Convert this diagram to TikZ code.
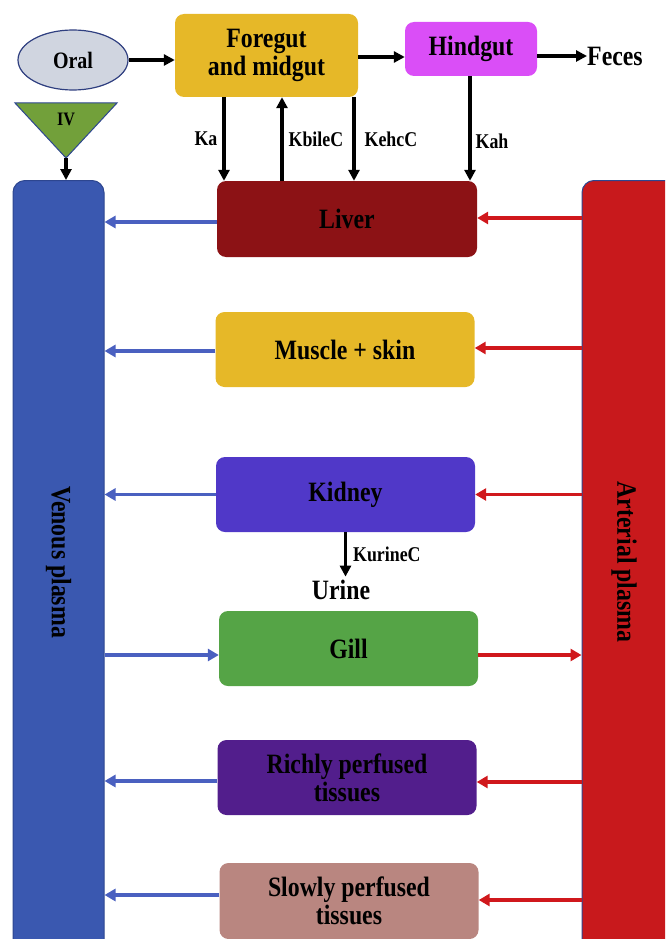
\documentclass[tikz,border=0pt]{standalone}
\usepackage{fontspec}
\setmainfont{Liberation Serif}[FakeStretch=0.85]
\usepackage{tikz}
\usetikzlibrary{positioning,arrows.meta,shapes.geometric}
\definecolor{venBlue}   {HTML}{3A58B0}
\definecolor{venEdge}   {HTML}{2D4690}
\definecolor{venArrow}  {HTML}{4A60C0}
\definecolor{artRed}    {HTML}{C8191C}
\definecolor{artArrow}  {HTML}{D0181C}
\definecolor{liverRed}  {HTML}{8C1215}
\definecolor{gutYellow} {HTML}{E6B828}
\definecolor{hindPink}  {HTML}{DA4EF7}
\definecolor{kidBlue}   {HTML}{5038C8}
\definecolor{gillGreen} {HTML}{55A446}
\definecolor{richPurple}{HTML}{521E8C}
\definecolor{slowRose}  {HTML}{B98680}
\definecolor{oralGrey}  {HTML}{D0D5E0}
\definecolor{oralEdge}  {HTML}{2F3F80}
\definecolor{ivGreen}   {HTML}{72A03A}

\begin{document}
\begin{tikzpicture}[x=1pt, y=-1pt,
  font=\bfseries\fontsize{28}{28}\selectfont,
  organ/.style ={rounded corners=9pt, minimum width=259pt, minimum height=75pt,
                 align=center, inner sep=2pt},
  plasma/.style={rounded corners=12pt, minimum height=800pt, anchor=north,
                 line width=1pt},
  ar/.style    ={-{Triangle[length=11pt,width=11pt]}, line width=3.3pt},
  vein/.style  ={-{Triangle[length=11pt,width=12pt]}, line width=3.2pt, draw=venArrow},
  artery/.style={-{Triangle[length=11pt,width=12pt]}, line width=3.2pt, draw=artArrow},
  rate/.style  ={font=\bfseries\fontsize{21}{22}\selectfont, inner sep=3pt},
]
\useasboundingbox (0,0) rectangle (665,939);
\clip (0,0) rectangle (665,939);

% gut
\node[ellipse, draw=oralEdge, fill=oralGrey, line width=1.2pt,
      minimum width=110pt, minimum height=60pt, inner sep=0pt,
      font=\bfseries\fontsize{23.5}{24}\selectfont] (oral) at (73,60) {Oral};
\node[organ, fill=gutYellow, minimum width=183pt, minimum height=83pt] (fg) at (266.5,55.5)
  {Foregut\\and midgut};
\node[organ, fill=hindPink, minimum width=132pt, minimum height=54pt] (hg) at (471,49) {Hindgut};
\node[anchor=west, inner sep=0pt] (feces) at (587,56) {Feces};

% IV dose
\fill[ivGreen, draw=venEdge, line width=1pt] (15,103) -- (117,103) -- (66,158) -- cycle;
\coordinate (ivtip) at (66,158);
\node[font=\bfseries\fontsize{19}{20}\selectfont] (iv) at (66,119) {IV};

% plasma
\node[plasma, fill=venBlue, draw=venEdge, minimum width=91pt] (ven) at (58.5,180) {};
\node[plasma, fill=artRed, draw=venEdge, minimum width=120pt] (art) at (642,180) {};
\node[rotate=-90] (vent) at (58.5,562) {Venous plasma};
\node[rotate=-90] (artt) at (624,562) {Arterial plasma};

% tissues
\node[organ, fill=liverRed, minimum width=260pt, minimum height=76pt] (liv) at (347,219) {Liver};
\node[organ, fill=gutYellow] (mus) at (345,349.5) {Muscle + skin};
\node[organ, fill=kidBlue] (kid) at (345.5,494.5) {Kidney};
\node (urine) at (341,590) {Urine};
\node[organ, fill=gillGreen] (gill) at (348.5,648.5) {Gill};
\node[organ, fill=richPurple] (rich) at (347,777.5) {Richly perfused\\tissues};
\node[organ, fill=slowRose, minimum height=76pt] (slow) at (349,901) {Slowly perfused\\tissues};

% gut flows
\draw[ar] (oral.east) -- (oral.east -| fg.west);
\draw[ar] ([yshift=-1.5pt]fg.east) -- ([yshift=-1.5pt]fg.east -| hg.west);
\draw[ar] ([yshift=-7pt]hg.east) -- (feces.west);
\draw[ar] (ivtip) -- (ivtip |- ven.north);

\draw[ar] ([xshift=-42.5pt]fg.south) -- ([xshift=-42.5pt]fg.south |- liv.north)
  node[rate, midway, left, xshift=-2pt] {Ka};
\draw[ar] ([xshift=15.5pt]fg.south |- liv.north) -- ([xshift=15.5pt]fg.south)
  node[rate, midway, right, xshift=2pt] {KbileC};
\draw[ar] ([xshift=87.5pt]fg.south) -- ([xshift=87.5pt]fg.south |- liv.north)
  node[rate, midway, right, xshift=6pt] {KehcC};
\draw[ar] ([xshift=-1pt]hg.south) -- ([xshift=-1pt]hg.south |- liv.north)
  node[rate, midway, right, xshift=1pt, yshift=-13pt] {Kah};

\draw[ar] (kid.south) -- (kid.south |- urine.north)
  node[rate, midway, right, xshift=3pt] {KurineC};

% blood flows
\draw[vein]   ([yshift=-3pt]liv.west) -- ([yshift=-3pt]liv.west -| ven.east);
\draw[artery] ([yshift=1pt]liv.east -| art.west) -- ([yshift=1pt]liv.east);
\draw[vein]   ([yshift=-1.5pt]mus.west) -- ([yshift=-1.5pt]mus.west -| ven.east);
\draw[artery] ([yshift=1.5pt]mus.east -| art.west) -- ([yshift=1.5pt]mus.east);
\draw[vein]   (kid.west) -- (kid.west -| ven.east);
\draw[artery] (kid.east -| art.west) -- (kid.east);
\draw[vein]   ([yshift=-6.5pt]gill.west -| ven.east) -- ([yshift=-6.5pt]gill.west);
\draw[artery] ([yshift=-6.5pt]gill.east) -- ([yshift=-6.5pt]gill.east -| art.west);
\draw[vein]   ([yshift=-3.5pt]rich.west) -- ([yshift=-3.5pt]rich.west -| ven.east);
\draw[artery] ([yshift=-4.5pt]rich.east -| art.west) -- ([yshift=-4.5pt]rich.east);
\draw[vein]   ([yshift=6pt]slow.west) -- ([yshift=6pt]slow.west -| ven.east);
\draw[artery] ([yshift=1pt]slow.east -| art.west) -- ([yshift=1pt]slow.east);

\end{tikzpicture}
\end{document}
